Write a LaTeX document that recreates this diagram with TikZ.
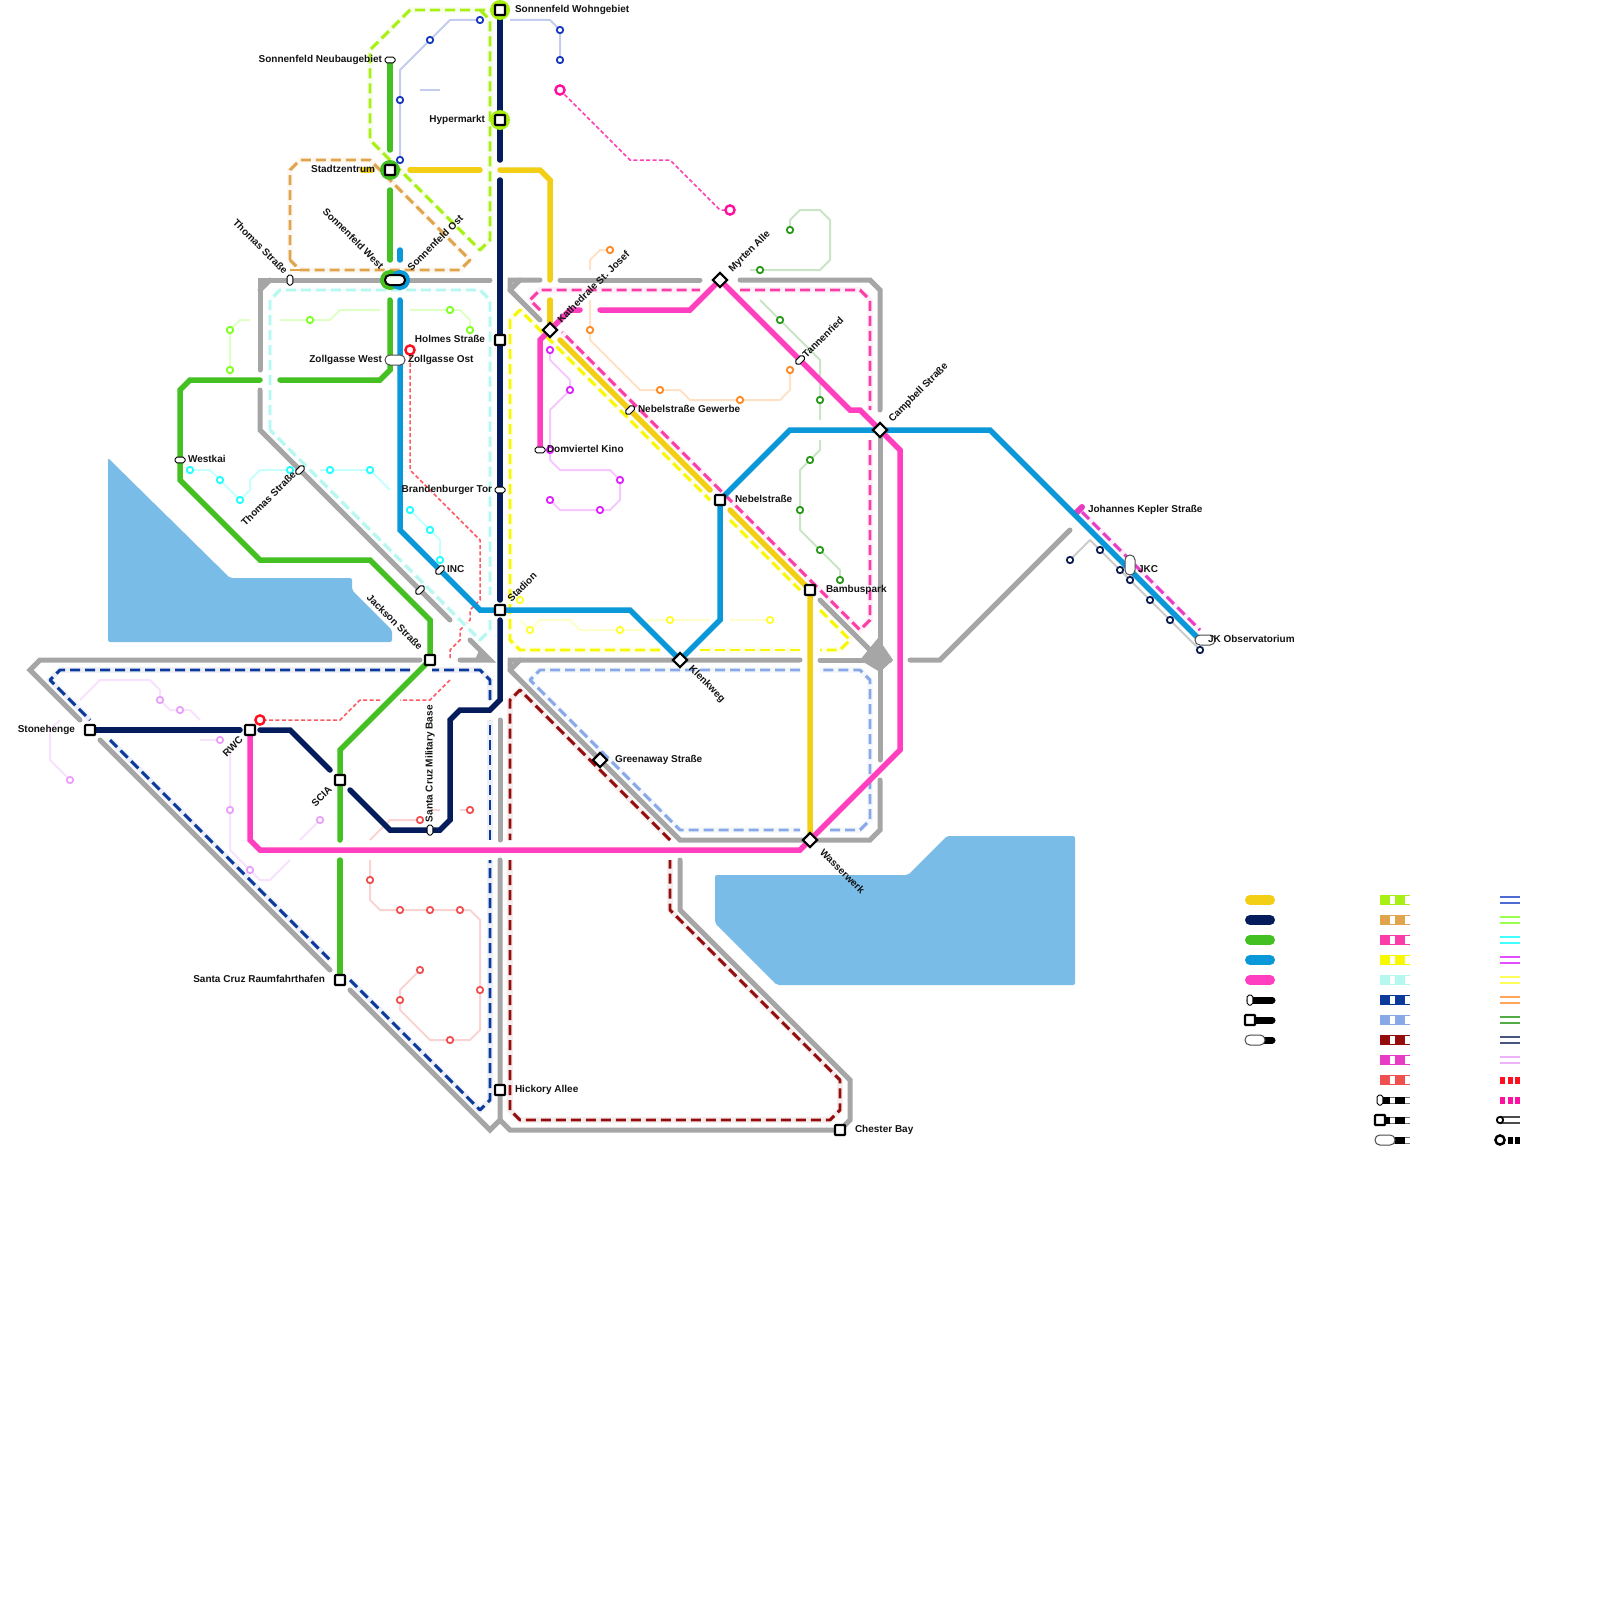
\documentclass[tikz,border=0pt]{standalone}
\usepackage{fontspec}
\setmainfont{Liberation Sans}
\definecolor{cyel}{HTML}{F2CE15}
\definecolor{cnav}{HTML}{041C5C}
\definecolor{cgrn}{HTML}{44C022}
\definecolor{cblu}{HTML}{0A98D8}
\definecolor{cpnk}{HTML}{FF3FC0}
\definecolor{cgry}{HTML}{A6A6A6}
\definecolor{dlim}{HTML}{A8F014}
\definecolor{dtan}{HTML}{E0A44C}
\definecolor{dpnk}{HTML}{FA3DA8}
\definecolor{dyel}{HTML}{F8F800}
\definecolor{dcya}{HTML}{B4F8F0}
\definecolor{dblu}{HTML}{0C3A9C}
\definecolor{dper}{HTML}{88A8E8}
\definecolor{dred}{HTML}{940C0C}
\definecolor{dmag}{HTML}{E83CC4}
\definecolor{dcor}{HTML}{F05050}
\definecolor{lake}{HTML}{7ABCE8}
\definecolor{tblu}{HTML}{1438C0}
\definecolor{tlim}{HTML}{80FF20}
\definecolor{tcya}{HTML}{20FFFF}
\definecolor{tmag}{HTML}{E020FF}
\definecolor{tyel}{HTML}{FFFF30}
\definecolor{tora}{HTML}{FF8820}
\definecolor{tgrn}{HTML}{289818}
\definecolor{tnav}{HTML}{0C1C50}
\definecolor{tlil}{HTML}{E8A0F8}
\definecolor{tred}{HTML}{F05050}
\definecolor{xred}{HTML}{FF1020}
\definecolor{xpnk}{HTML}{FF10A0}
\tikzset{
 mainl/.style={draw=#1,line width=2.75pt,line cap=round,line join=miter},
 grayl/.style={draw=cgry,line width=2.5pt,line cap=round,line join=miter},
 dashl/.style={draw=#1,line width=1.45pt,dash pattern=on 5pt off 2.5pt,line join=round,preaction={draw=#1!8,line width=2.8pt,solid}},
 thinl/.style={draw=#1,line width=1pt,line join=round},
 dotl/.style={draw=#1,line width=.75pt,dash pattern=on 2pt off 1.2pt},
 stn/.style={circle,draw=#1,fill=white,line width=.9pt,minimum size=3.2pt,inner sep=0pt,outer sep=0pt},
 bigstn/.style={circle,draw=#1,fill=white,line width=1.2pt,minimum size=4.6pt,inner sep=0pt,outer sep=0pt},
 sqst/.style={rectangle,draw=black,fill=white,line width=1.1pt,minimum size=5pt,inner sep=0pt,outer sep=0pt,rounded corners=.4pt},
 dmst/.style={rectangle,draw=black,fill=white,line width=1.1pt,minimum size=5pt,inner sep=0pt,outer sep=0pt,rotate=45},
 pills/.style={rectangle,draw=black,fill=white,line width=.5pt,minimum width=5pt,minimum height=2.8pt,inner sep=0pt,outer sep=0pt,rounded corners=.9pt},
 pilll/.style={rectangle,draw=black!70,fill=white,line width=.5pt,minimum width=10pt,minimum height=5pt,inner sep=0pt,outer sep=0pt,rounded corners=2.4pt},
 lbl/.style={font=\bfseries\fontsize{5}{6}\selectfont,inner sep=0pt,outer sep=0pt,text=black!92,text height=3.6pt,text depth=0pt},
 lakef/.style={fill=lake,rounded corners=1pt},
}
\newcommand{\legdash}[2]{%
 \fill[#1] (1380,#2-5) rectangle (1410,#2+5);
 \fill[white] (1390,#2-4.2) rectangle (1395,#2+4.2);
 \fill[white] (1405,#2-4.2) rectangle (1410,#2+4.2);}
\newcommand{\legblk}[1]{%
 \fill[black] (1382,#1-3.5) rectangle (1390,#1+3.5);
 \fill[black] (1395,#1-3.5) rectangle (1405,#1+3.5);
 \fill[black!55] (1390,#1-3.5) rectangle (1395,#1-2.8);
 \fill[black!55] (1390,#1+2.8) rectangle (1395,#1+3.5);
 \fill[black!55] (1405,#1-3.5) rectangle (1410,#1-2.8);
 \fill[black!55] (1405,#1+2.8) rectangle (1410,#1+3.5);}
\newcommand{\legdbl}[2]{%
 \draw[#1,line width=.6pt] (1500,#2-3) -- (1520,#2-3);
 \draw[#1,line width=.6pt] (1500,#2+3) -- (1520,#2+3);}
\newcommand{\legdot}[2]{%
 \fill[#1] (1500,#2-3.5) rectangle (1505,#2+3.5);
 \fill[#1] (1507.5,#2-3.5) rectangle (1512.5,#2+3.5);
 \fill[#1] (1515,#2-3.5) rectangle (1520,#2+3.5);}
\begin{document}
\begin{tikzpicture}[x=.5pt,y=-.5pt]
\useasboundingbox (0,0) rectangle (1600,1600);
\fill[white] (0,0) rectangle (1600,1600);
% station positions
\coordinate (wohn) at (500,10);
\coordinate (hyper) at (500,120);
\coordinate (stadt) at (390,170);
\coordinate (holm) at (500,340);
\coordinate (stad) at (500,610);
\coordinate (nebel) at (720,500);
\coordinate (bamb) at (810,590);
\coordinate (jack) at (430,660);
\coordinate (rwc) at (250,730);
\coordinate (stone) at (90,730);
\coordinate (scia) at (340,780);
\coordinate (raum) at (340,980);
\coordinate (hick) at (500,1090);
\coordinate (chest) at (840,1130);
\coordinate (kath) at (550,330);
\coordinate (myrt) at (720,280);
\coordinate (camp) at (880,430);
\coordinate (klen) at (680,660);
\coordinate (green) at (600,760);
\coordinate (wass) at (810,840);
\coordinate (jkobs) at (1200,640);
\coordinate (neub) at (390,60);
\coordinate (zoll) at (390,370);
\coordinate (rstart) at (410,350);
\coordinate (rend) at (260,720);
\coordinate (pstart) at (560,90);
\coordinate (pend) at (730,210);
% lakes
\fill[lakef] (108,458) -- (230,578) -- (352,578) -- (352,590) -- (392,630) -- (392,642) -- (108,642) -- cycle;
\fill[lakef] (715,875) -- (908,875) -- (947,836) -- (1075,836) -- (1075,985) -- (777,985) -- (715,923) -- cycle;
% thin lines
\draw[thinl=tblu!25] (400,160) -- (400,70) -- (450,20) -- (480,20);
\draw[thinl=tblu!25] (510,20) -- (550,20) -- (560,30) -- (560,60);
\draw[thinl=tblu!25] (420,90) -- (440,90);
\draw[thinl=tlim!25] (230,370) -- (230,330) -- (240,320) -- (250,320);
\draw[thinl=tlim!25] (280,320) -- (330,320) -- (340,310) -- (380,310);
\draw[thinl=tlim!25] (410,310) -- (460,310) -- (470,320) -- (470,330);
\draw[thinl=tcya!25] (190,470) -- (210,470) -- (240,500) -- (250,490) -- (250,480) -- (260,470) -- (300,470);
\draw[thinl=tcya!25] (320,470) -- (370,470) -- (390,490);
\draw[thinl=tcya!25] (410,510) -- (440,540) -- (440,560);
\draw[thinl=tmag!25] (550,350) -- (550,360) -- (570,380) -- (570,390) -- (550,410) -- (550,460) -- (560,470) -- (610,470) -- (620,480) -- (620,500) -- (610,510) -- (560,510) -- (550,500);
\draw[thinl=tyel!25] (520,620) -- (530,630) -- (540,620) -- (570,620) -- (580,630) -- (640,630) -- (650,620) -- (710,620);
\draw[thinl=tyel!25] (730,620) -- (770,620);
\draw[thinl=tora!25] (610,250) -- (600,250) -- (590,260) -- (590,270);
\draw[thinl=tora!25] (590,300) -- (590,340) -- (640,390) -- (680,390) -- (690,400) -- (780,400) -- (790,390) -- (790,370);
\draw[thinl=tgrn!25] (790,230) -- (790,220) -- (800,210) -- (820,210) -- (830,220) -- (830,260) -- (820,270) -- (750,270);
\draw[thinl=tgrn!25] (760,300) -- (820,360) -- (820,420);
\draw[thinl=tgrn!25] (820,440) -- (820,450) -- (800,470) -- (800,530) -- (840,570) -- (840,580);
\draw[thinl=black!20] (1070,560) -- (1090,540) -- (1200,650);
\draw[thinl=tlil!30] (80,700) -- (100,680) -- (150,680) -- (160,690) -- (160,700) -- (170,710) -- (190,710) -- (200,720);
\draw[thinl=tlil!30] (60,720) -- (50,730) -- (50,760) -- (70,780);
\draw[thinl=tlil!30] (200,740) -- (220,740);
\draw[thinl=tlil!30] (230,750) -- (230,850) -- (260,880) -- (270,880) -- (290,860);
\draw[thinl=tlil!30] (300,840) -- (320,820);
\draw[thinl=tred!25] (370,840) -- (390,820) -- (420,820);
\draw[thinl=tred!25] (430,810) -- (440,810);
\draw[thinl=tred!25] (460,810) -- (470,810);
\draw[thinl=tred!25] (370,860) -- (370,900) -- (380,910) -- (470,910) -- (480,920) -- (480,1030) -- (470,1040) -- (430,1040) -- (400,1010) -- (400,990) -- (420,970);
% dotted
\draw[dotl=xred!70] (rstart) -- (410,470) -- (480,540) -- (480,600) -- (470,610) -- (470,620) -- (460,630) -- (460,640) -- (450,650) -- (450,660);
\draw[dotl=xred!70] (450,680) -- (430,700) -- (400,700);
\draw[dotl=xred!70] (380,700) -- (360,700) -- (340,720) -- (rend);
\draw[dotl=xpnk!80] (pstart) -- (630,160) -- (670,160) -- (720,210) -- (pend);
% gray
\draw[grayl] (260,370) -- (260,280) -- (490,280);
\draw[grayl] (260,290) -- (270,280);
\draw[grayl] (260,390) -- (260,430) -- (450,620);
\draw[grayl] (470,640) -- (490,660) -- (460,660);
\fill[cgry] (475,660) -- (490,660) -- (480,648) -- cycle;
\draw[grayl] (540,280) -- (510,280) -- (510,290) -- (540,320);
\draw[grayl] (510,290) -- (520,280);
\draw[grayl] (560,280) -- (700,280);
\draw[grayl] (740,280) -- (870,280) -- (880,290) -- (880,410);
\draw[grayl] (camp) -- (880,760);
\draw[grayl] (800,660) -- (510,660) -- (510,670) -- (680,840) -- (870,840) -- (880,830) -- (880,780);
\draw[grayl] (510,670) -- (520,660);
\draw[grayl] (820,660) -- (890,660);
\draw[grayl] (820,600) -- (880,660);
\fill[cgry] (860,660) -- (878,638) -- (893,660) -- (880,672) -- cycle;
\draw[grayl] (910,660) -- (940,660) -- (1070,530);
\draw[grayl] (420,660) -- (40,660) -- (30,670) -- (80,720);
\draw[grayl] (100,740) -- (330,970);
\draw[grayl] (350,990) -- (490,1130) -- (500,1120) -- (500,860);
\draw[grayl] (500,840) -- (500,720);
\draw[grayl] (500,1120) -- (510,1130) -- (chest) -- (850,1120) -- (850,1080) -- (680,910) -- (680,860);
% dashed
\draw[dashl=dlim] (wohn) -- (410,10) -- (370,50) -- (370,140) -- (480,250) -- (490,240) -- (490,20) -- (480,10);
\draw[dashl=dtan] (290,260) -- (290,170) -- (300,160) -- (370,160) -- (470,260) -- (460,270) -- (300,270) -- (290,260);
\draw[dashl=dtan] (290,270) -- (300,270);
\draw[dashl=dcya] (270,430) -- (270,300) -- (280,290) -- (480,290) -- (490,300) -- (490,595);
\draw[dashl=dcya] (490,620) -- (490,630) -- (480,640) -- (270,430);
\draw[dashl=dyel] (820,610) -- (850,640) -- (840,650) -- (820,650);
\draw[dashl=dyel] (800,650) -- (700,650);
\draw[dashl=dyel] (660,650) -- (520,650) -- (510,640) -- (510,320) -- (520,310) -- (710,500);
\draw[dashl=dyel] (730,520) -- (800,590);
\draw[dashl=dpnk] (540,310) -- (530,300) -- (540,290) -- (700,290);
\draw[dashl=dpnk] (740,290) -- (860,290) -- (870,300) -- (870,410);
\draw[dashl=dpnk] (870,440) -- (870,620) -- (860,630) -- (562,332);
\draw[dashl=dblu] (410,670) -- (60,670) -- (50,680) -- (90,720);
\draw[dashl=dblu] (110,740) -- (330,960);
\draw[dashl=dblu] (350,980) -- (480,1110) -- (490,1100) -- (490,860);
\draw[dashl=dblu] (490,840) -- (490,720);
\draw[dashl=dblu] (490,700) -- (490,680) -- (480,670) -- (432,670);
\draw[dashl=dper] (800,670) -- (540,670) -- (530,680) -- (680,830) -- (800,830);
\draw[dashl=dper] (830,830) -- (860,830) -- (870,820) -- (870,680) -- (860,670) -- (820,670);
\draw[dashl=dred] (670,840) -- (520,690) -- (510,700) -- (510,840);
\draw[dashl=dred] (510,860) -- (510,1110) -- (520,1120) -- (830,1120) -- (840,1110) -- (840,1080) -- (670,910) -- (670,860);
\draw[dashl=dmag] (1082,512) -- (1200,630);
\draw[draw=dmag,line width=3pt,line cap=round] (1076,513) -- (1082,507);
% main lines
\draw[mainl=cyel] (362,170) -- (372,170);
\draw[mainl=cyel] (410,170) -- (480,170);
\draw[mainl=cyel] (500,170) -- (540,170) -- (550,180) -- (550,280);
\draw[mainl=cyel] (550,300) -- (kath);
\draw[mainl=cyel] (560,340) -- (710,490);
\draw[mainl=cyel] (730,510) -- (bamb) -- (wass);
\draw[mainl=cnav] (wohn) -- (500,160);
\draw[mainl=cnav] (500,180) -- (500,600);
\draw[mainl=cnav] (500,620) -- (500,700) -- (490,710) -- (460,710) -- (450,720) -- (450,820) -- (440,830) -- (390,830) -- (350,790);
\draw[mainl=cnav] (330,770) -- (290,730) -- (260,730);
\draw[mainl=cnav] (240,730) -- (stone);
\draw[mainl=cgrn] (neub) -- (390,150);
\draw[mainl=cgrn] (390,190) -- (390,260);
\draw[mainl=cgrn] (390,300) -- (zoll) -- (380,380) -- (280,380);
\draw[mainl=cgrn] (260,380) -- (190,380) -- (180,390) -- (180,480) -- (260,560) -- (370,560) -- (430,620) -- (jack) -- (340,750) -- (340,840);
\draw[mainl=cgrn] (340,860) -- (raum);
\draw[mainl=cblu] (400,250) -- (400,260);
\draw[mainl=cblu] (400,300) -- (400,530) -- (480,610) -- (630,610) -- (klen) -- (720,620) -- (nebel) -- (790,430) -- (camp) -- (990,430) -- (jkobs);
\draw[mainl=cpnk] (rwc) -- (250,840) -- (260,850) -- (800,850) -- (900,750) -- (900,450) -- (860,410) -- (850,410) -- (myrt) -- (690,310) -- (600,310);
\draw[mainl=cpnk] (580,310) -- (570,310) -- (540,340) -- (540,450);
% halos
\fill[dlim] (wohn) circle (5pt);
\fill[dlim] (hyper) circle (5pt);
\fill[cgrn] (stadt) circle (5pt);
\fill[cgrn] (390,280) circle (5pt);
\fill[cblu] (400,280) circle (5pt);
% small stations
\foreach \x/\y in {400/160,400/100,430/40,480/20,560/30,560/60} \node[stn=tblu] (tb-\x-\y) at (\x,\y) {};
\foreach \x/\y in {230/330,230/370,310/320,450/310,470/330} \node[stn=tlim] (tl-\x-\y) at (\x,\y) {};
\foreach \x/\y in {190/470,220/480,240/500,290/470,330/470,370/470,410/510,430/530,440/560} \node[stn=tcya] (tc-\x-\y) at (\x,\y) {};
\foreach \x/\y in {550/350,570/390,550/450,620/480,550/500,600/510} \node[stn=tmag] (tm-\x-\y) at (\x,\y) {};
\foreach \x/\y in {520/600,530/630,620/630,670/620,770/620} \node[stn=tyel] (ty-\x-\y) at (\x,\y) {};
\foreach \x/\y in {610/250,590/330,660/390,740/400,790/370} \node[stn=tora] (to-\x-\y) at (\x,\y) {};
\foreach \x/\y in {790/230,760/270,780/320,820/400,810/460,800/510,820/550,840/580} \node[stn=tgrn] (tg-\x-\y) at (\x,\y) {};
\foreach \x/\y in {1070/560,1100/550,1120/570,1130/580,1150/600,1170/620,1200/650} \node[stn=tnav] (tn-\x-\y) at (\x,\y) {};
\foreach \x/\y in {160/700,180/710,70/780,220/740,230/810,250/870,320/820} \node[stn=tlil] (ti-\x-\y) at (\x,\y) {};
\foreach \x/\y in {420/820,470/810,370/880,400/910,430/910,460/910,480/990,450/1040,400/1000,420/970} \node[stn=tred] (tr-\x-\y) at (\x,\y) {};
\node[bigstn=xred] (st-r1) at (rstart) {};
\node[bigstn=xred] (st-r2) at (rend) {};
\node[bigstn=xpnk] (st-p1) at (pstart) {};
\node[bigstn=xpnk] (st-p2) at (pend) {};
% stations
\foreach \n in {wohn,hyper,stadt,holm,stad,nebel,bamb,jack,rwc,stone,scia,raum,hick,chest} \node[sqst] (n-\n) at (\n) {};
\foreach \n in {kath,myrt,camp,klen,green,wass} \node[dmst] (n-\n) at (\n) {};
\node[pills] (p-neub) at (neub) {};
\node[pills] (p-west) at (180,460) {};
\node[pills] (p-bran) at (500,490) {};
\node[pills] (p-dom) at (540,450) {};
\node[pills,rotate=90] (p-tho) at (290,280) {};
\node[pills,rotate=90] (p-mil) at (430,830) {};
\node[pills,rotate=45] (p-th2) at (300,470) {};
\node[pills,rotate=45] (p-inc) at (440,570) {};
\node[pills,rotate=45] (p-jac) at (420,590) {};
\node[pills,rotate=45] (p-gew) at (630,410) {};
\node[pills,rotate=45] (p-tan) at (800,360) {};
\node[pilll,draw=black,line width=1pt] (p-son) at (395,280) {};
\node[pilll] (p-zol) at (395,360) {};
\node[pilll,rotate=90] (p-jkc) at (1130,565) {};
\node[pilll] (p-jko) at (1205,640) {};
% labels
\node[lbl,anchor=west] (l1) at (515,9) {Sonnenfeld Wohngebiet};
\node[lbl,anchor=east] (l2) at (382,59) {Sonnenfeld Neubaugebiet};
\node[lbl,anchor=east] (l3) at (485,119) {Hypermarkt};
\node[lbl,anchor=east] (l4) at (375,169) {Stadtzentrum};
\node[lbl,anchor=east,rotate=-45] (l5) at (286,272) {Thomas Straße};
\node[lbl,anchor=east,rotate=-45] (l6) at (382,267) {Sonnenfeld West};
\node[lbl,anchor=west,rotate=45] (l7) at (409,269) {Sonnenfeld Ost};
\node[lbl,anchor=east] (l8) at (485,339) {Holmes Straße};
\node[lbl,anchor=east] (l9) at (382,359) {Zollgasse West};
\node[lbl,anchor=west] (l10) at (408,359) {Zollgasse Ost};
\node[lbl,anchor=west,rotate=45] (l11) at (559,321) {Kathedrale St. Josef};
\node[lbl,anchor=west,rotate=45] (l12) at (730,270) {Myrten Alle};
\node[lbl,anchor=west,rotate=45] (l13) at (804,356) {Tannenried};
\node[lbl,anchor=west,rotate=45] (l14) at (890,420) {Campbell Straße};
\node[lbl,anchor=west] (l15) at (638,409) {Nebelstraße Gewerbe};
\node[lbl,anchor=west] (l16) at (547,449) {Domviertel Kino};
\node[lbl,anchor=west] (l17) at (735,499) {Nebelstraße};
\node[lbl,anchor=west] (l18) at (826,589) {Bambuspark};
\node[lbl,anchor=west,rotate=45] (l19) at (509,600) {Stadion};
\node[lbl,anchor=east] (l20) at (492,489) {Brandenburger Tor};
\node[lbl,anchor=west] (l21) at (447,569) {INC};
\node[lbl,anchor=west] (l22) at (188,459) {Westkai};
\node[lbl,anchor=east,rotate=45] (l23) at (294,473) {Thomas Straße};
\node[lbl,anchor=east,rotate=-45] (l24) at (421,648) {Jackson Straße};
\node[lbl,anchor=east] (l25) at (75,729) {Stonehenge};
\node[lbl,anchor=east,rotate=45] (l26) at (241,738) {RWC};
\node[lbl,anchor=east,rotate=45] (l27) at (330,788) {SCIA};
\node[lbl,anchor=west,rotate=90] (l28) at (429,822) {Santa Cruz Military Base};
\node[lbl,anchor=east] (l29) at (325,979) {Santa Cruz Raumfahrthafen};
\node[lbl,anchor=west] (l30) at (515,1089) {Hickory Allee};
\node[lbl,anchor=west] (l31) at (855,1129) {Chester Bay};
\node[lbl,anchor=west,rotate=-45] (l32) at (691,667) {Klenkweg};
\node[lbl,anchor=west] (l33) at (615,759) {Greenaway Straße};
\node[lbl,anchor=west,rotate=-45] (l34) at (822,851) {Wasserwerk};
\node[lbl,anchor=west] (l35) at (1088,509) {Johannes Kepler Straße};
\node[lbl,anchor=west] (l36) at (1138,569) {JKC};
\node[lbl,anchor=west] (l37) at (1208,639) {JK Observatorium};
% legend column 1
\foreach \c/\y in {cyel/900,cnav/920,cgrn/940,cblu/960,cpnk/980}
  \draw[\c,line width=5pt,line cap=round] (1250,\y) -- (1270,\y);
\draw[black,line width=3.5pt,line cap=round] (1250,1000) -- (1272,1000);
\draw[black,line width=3.5pt,line cap=round] (1250,1020) -- (1272,1020);
\draw[black,line width=3.5pt,line cap=round] (1255,1040) -- (1272,1040);
\node[pills,rotate=90] (lg1) at (1250,1000) {};
\node[sqst] (lg2) at (1250,1020) {};
\node[pilll] (lg3) at (1255,1040) {};
% legend column 2
\legdash{dlim}{900}\legdash{dtan}{920}\legdash{dpnk}{940}\legdash{dyel}{960}\legdash{dcya}{980}
\legdash{dblu}{1000}\legdash{dper}{1020}\legdash{dred}{1040}\legdash{dmag}{1060}\legdash{dcor}{1080}
\legblk{1100}\legblk{1120}\legblk{1140}
\node[pills,rotate=90] (lg4) at (1380,1100) {};
\node[sqst] (lg5) at (1380,1120) {};
\node[pilll] (lg6) at (1385,1140) {};
% legend column 3
\legdbl{tblu!75}{900}\legdbl{tlim!80}{920}\legdbl{tcya!85}{940}\legdbl{tmag!80}{960}\legdbl{tyel!80}{980}
\legdbl{tora!75}{1000}\legdbl{tgrn!80}{1020}\legdbl{tnav!75}{1040}\legdbl{tlil!80}{1060}
\legdot{xred}{1080}\legdot{xpnk}{1100}
\legdbl{black!70}{1120}
\node[stn=black] (lg7) at (1500,1120) {};
\legdot{black}{1140}
\node[bigstn=black] (lg8) at (1500,1140) {};
\end{tikzpicture}
\end{document}
